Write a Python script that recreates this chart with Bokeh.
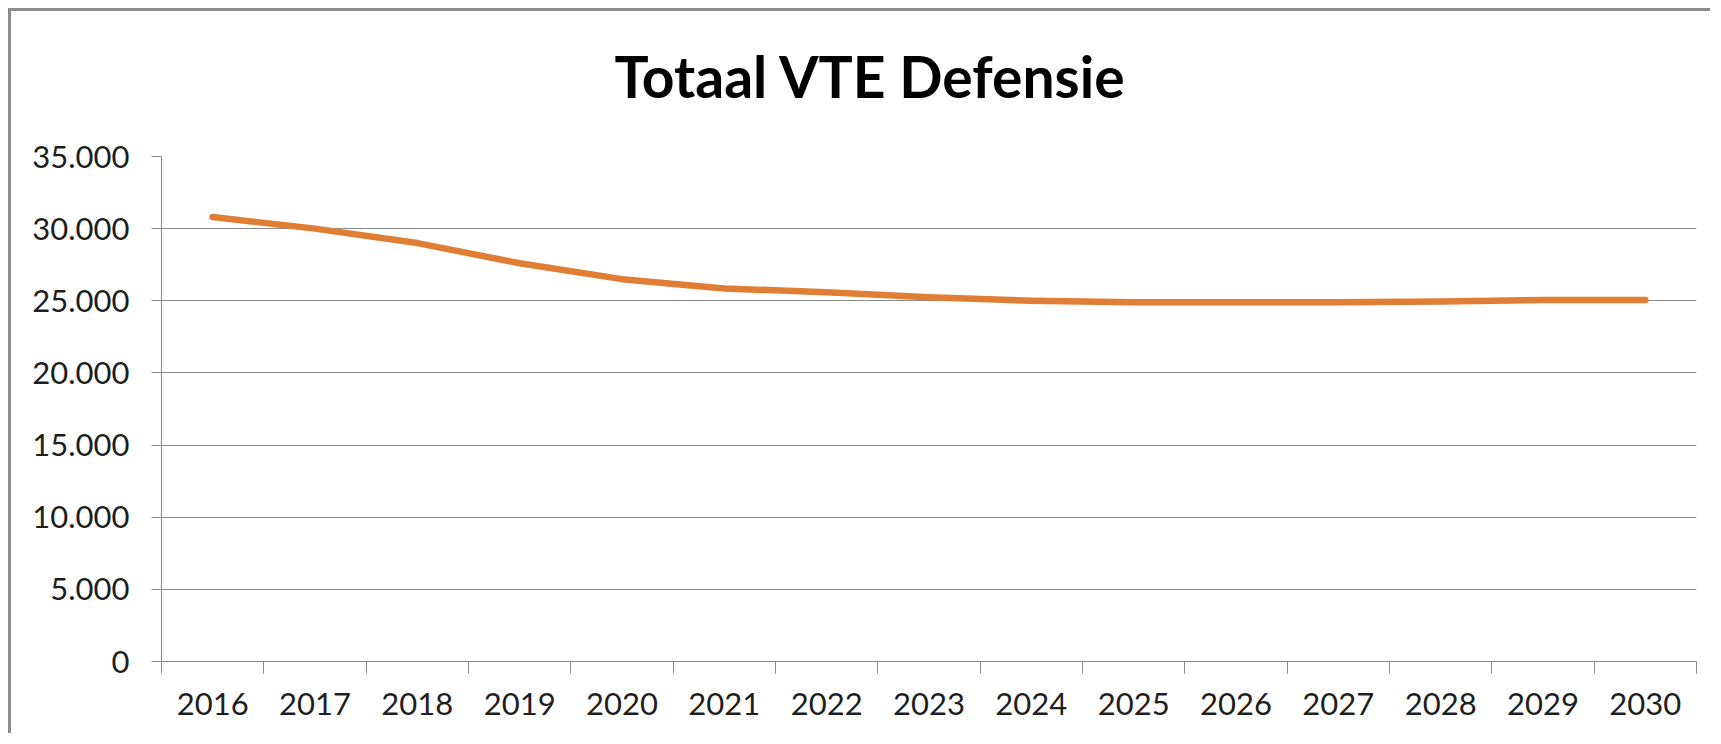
from bokeh.plotting import figure
from bokeh.models import Range1d, FixedTicker, Title
from bokeh.embed import file_html
from bokeh.resources import INLINE

title_text = "Totaal VTE Defensie"
years = ["2016", "2017", "2018", "2019", "2020", "2021", "2022", "2023",
         "2024", "2025", "2026", "2027", "2028", "2029", "2030"]
vte = [30800, 30000, 29000, 27600, 26500, 25850, 25600, 25250,
       25000, 24900, 24900, 24900, 24950, 25050, 25050]
y_ticks = [0, 5000, 10000, 15000, 20000, 25000, 30000, 35000]
y_tick_labels = ["0", "5.000", "10.000", "15.000", "20.000", "25.000", "30.000", "35.000"]

GRID = "#8a8a8a"
TXT = "#1e1e1e"
FONT = "Lato"

n = len(years)
centers = [i + 0.5 for i in range(n)]
bounds = list(range(n + 1))

p = figure(width=1702, height=725, output_backend="svg", toolbar_location=None,
           x_range=Range1d(0, n), y_range=Range1d(0, 35000),
           min_border_left=150, min_border_top=145, min_border_right=17,
           min_border_bottom=75)
p.styles = {"border-top": "3px solid #8c8c8c", "border-left": "3px solid #8c8c8c",
            "margin-top": "8px", "margin-left": "8px"}
p.outline_line_color = None
p.background_fill_color = "white"
p.border_fill_color = "white"

# spacer between title and plot area, then the title itself
p.add_layout(Title(text=" ", text_font_size="1px", standoff=20), "above")
p.add_layout(Title(text=title_text, align="left", offset=453, standoff=48,
                   vertical_align="bottom", text_font=FONT, text_font_style="bold",
                   text_font_size="57px", text_color="#000000"), "above")

p.line(centers, vte, line_color="#E07E35", line_width=6.5, line_cap="round", line_join="round")

# y axis
p.yaxis.ticker = FixedTicker(ticks=y_ticks)
p.yaxis.major_label_overrides = {t: l for t, l in zip(y_ticks, y_tick_labels)}
p.yaxis.axis_line_color = GRID
p.yaxis.major_tick_line_color = GRID
p.yaxis.major_tick_out = 10
p.yaxis.major_tick_in = 0
p.yaxis.minor_tick_line_color = None
p.yaxis.major_label_standoff = 22
p.yaxis.major_label_text_font = FONT
p.yaxis.major_label_text_font_size = "31px"
p.yaxis.major_label_text_color = TXT

# x axis
p.xaxis.ticker = FixedTicker(ticks=centers, minor_ticks=bounds)
p.xaxis.major_label_overrides = {c: y for c, y in zip(centers, years)}
p.xaxis.axis_line_color = GRID
p.xaxis.major_tick_line_color = None
p.xaxis.minor_tick_line_color = GRID
p.xaxis.minor_tick_out = 12
p.xaxis.minor_tick_in = 0
p.xaxis.major_label_standoff = 19
p.xaxis.major_label_text_font = FONT
p.xaxis.major_label_text_font_size = "31px"
p.xaxis.major_label_text_color = TXT

p.xgrid.grid_line_color = None
p.ygrid.ticker = FixedTicker(ticks=y_ticks)
p.ygrid.grid_line_color = GRID
p.ygrid.grid_line_width = 1

open("out.html", "w").write(file_html(p, INLINE))
